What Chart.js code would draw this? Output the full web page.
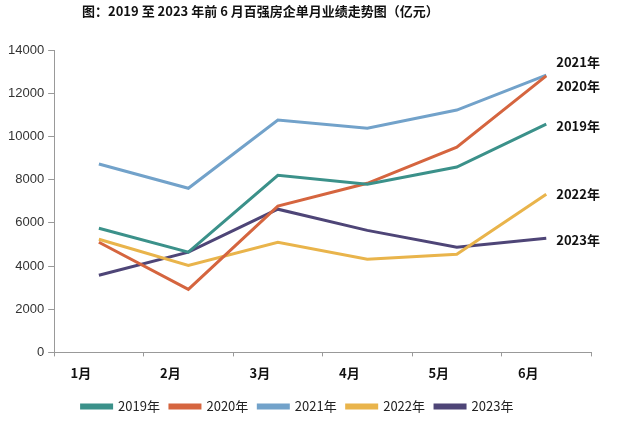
<!DOCTYPE html>
<html>
<head>
<meta charset="utf-8">
<script src="https://cdn.jsdelivr.net/npm/chart.js@4"></script>
<style>
  body { margin: 0; background: #fff; }
  #wrap { position: relative; width: 623px; height: 444px; }
  #title {
    position: absolute; left: 82px; top: 1px;
    font: bold 13px "Noto Sans CJK SC", sans-serif; color: #111;
    white-space: nowrap;
  }
</style>
</head>
<body>
<div id="wrap">
  <div id="title">图：2019 至 2023 年前 6 月百强房企单月业绩走势图（亿元）</div>
  <canvas id="chart" width="623" height="444"></canvas>
</div>
<script>
const months = ["1月", "2月", "3月", "4月", "5月", "6月"];
const yearNames = ["2019年", "2020年", "2021年", "2022年", "2023年"];
const sales2019 = [5750, 4640, 8200, 7790, 8580, 10570];
const sales2020 = [5100, 2920, 6770, 7830, 9500, 12800];
const sales2021 = [8720, 7600, 10760, 10380, 11220, 12840];
const sales2022 = [5240, 4030, 5100, 4310, 4540, 7320];
const sales2023 = [3570, 4640, 6630, 5650, 4870, 5280];
const yTicks = [0, 2000, 4000, 6000, 8000, 10000, 12000, 14000];

const colors = ["#3b918a", "#d5653f", "#72a2ca", "#e9b44b", "#4e4577"];
// label nudges so the end-of-line names do not collide
const endLabelShift = [2, 10, -13, 0, 2];

const allSales = [sales2019, sales2020, sales2021, sales2022, sales2023];

const endLabels = {
  id: "endLabels",
  afterDatasetsDraw(chart) {
    const ctx = chart.ctx;
    ctx.save();
    ctx.font = "bold 13px 'Noto Sans CJK SC', sans-serif";
    ctx.fillStyle = "#111";
    ctx.textBaseline = "middle";
    chart.data.datasets.forEach((ds, i) => {
      const meta = chart.getDatasetMeta(i);
      const last = meta.data[meta.data.length - 1];
      ctx.fillText(ds.label, last.x + 10, last.y + endLabelShift[i]);
    });
    ctx.restore();
  }
};

new Chart(document.getElementById("chart"), {
  type: "line",
  data: {
    labels: months,
    datasets: allSales.map((values, i) => ({
      label: yearNames[i],
      data: values,
      borderColor: colors[i],
      backgroundColor: colors[i],
      borderWidth: 3,
      pointRadius: 0,
      tension: 0
    }))
  },
  options: {
    responsive: false,
    animation: false,
    layout: { padding: { top: 50, left: 4, right: 32, bottom: 21 } },
    plugins: {
      title: { display: false },
      tooltip: { enabled: false },
      legend: {
        position: "bottom",
        labels: {
          boxWidth: 30,
          boxHeight: 3,
          padding: 10,
          color: "#222",
          font: { family: "'Noto Sans CJK SC', sans-serif", size: 13 }
        }
      }
    },
    scales: {
      x: {
        offset: true,
        grid: { display: true, offset: true, drawOnChartArea: false, tickLength: 4, color: "#999" },
        border: { color: "#999" },
        ticks: {
          color: "#111",
          labelOffset: -18,
          padding: 9,
          font: { family: "'Noto Sans CJK SC', sans-serif", size: 13, weight: "bold" }
        }
      },
      y: {
        min: 0,
        max: 14000,
        afterBuildTicks(scale) {
          scale.ticks = yTicks.map((v) => ({ value: v }));
        },
        grid: { display: true, drawOnChartArea: false, tickLength: 6, color: "#999" },
        border: { color: "#999" },
        ticks: {
          color: "#333",
          padding: 4,
          callback: (v) => String(v),
          font: { family: "'Liberation Sans', Arial, sans-serif", size: 13 }
        }
      }
    }
  },
  plugins: [endLabels]
});
</script>
</body>
</html>
